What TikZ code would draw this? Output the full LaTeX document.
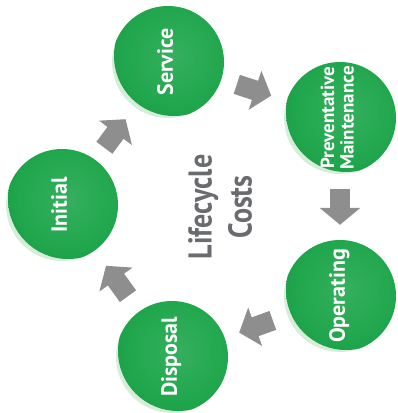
\documentclass[tikz,border=0pt]{standalone}
\usepackage{fontspec}
\setmainfont{PT Sans}
\usepackage{graphicx}
\usepackage{tikz}
\usetikzlibrary{arrows.meta, positioning, calc}
\definecolor{lcGreen}{HTML}{1FA64C}
\definecolor{lcDark}{HTML}{0E6B30}
\definecolor{lcRim}{HTML}{D5EED9}
\definecolor{lcGray}{HTML}{8E8E8E}
\definecolor{lcText}{HTML}{6A6B6E}
\pgfdeclareradialshading{lcball}{\pgfpointorigin}{%
  color(0bp)=(lcGreen!90!white); color(22bp)=(lcGreen);
  color(34bp)=(lcGreen!88!black); color(41bp)=(lcDark);
  color(45bp)=(lcGreen!80!black); color(48bp)=(lcGreen!75!white);
  color(50bp)=(lcRim)}
\newcommand{\upText}[1]{\rotatebox{90}{\begin{tabular}{@{}c@{}}#1\end{tabular}}}

\begin{document}
\begin{tikzpicture}[x=1pt, y=1pt,
      ball/.style={circle, minimum size=112pt, inner sep=0pt,
                   text=white, font=\fontsize{22}{24}\selectfont\bfseries,
                   path picture={
                     \fill[lcRim] (path picture bounding box.south west)
                       rectangle (path picture bounding box.north east);
                     \shade[shading=lcball]
                       ([shift={(6pt,6pt)}]path picture bounding box.center)
                       circle (60pt);}},
      hub/.style={rotate=90, xscale=0.85, align=center, text=lcText,
                  font=\fontsize{33}{40}\selectfont\bfseries},
      flow/.style={draw=lcGray, line width=20pt,
                   -{Triangle[width=40pt, length=17pt]}}]
    \useasboundingbox (0,0) rectangle (398,413);
    \node[ball] (service) at (168,351) {\upText{Service}};
    \node[ball, font=\fontsize{19}{19.5}\selectfont\bfseries] (prev) at (340,295)
      {\upText{Preventative\\Maintenance}};
    \node[ball] (operating) at (340,117) {\upText{Operating}};
    \node[ball] (disposal) at (172,56) {\upText{Disposal}};
    \node[ball] (initial) at (62,208) {\upText{Initial}};
    \node[hub] (costs) at (220,206) {Lifecycle\\Costs};
    \draw[flow] ($(service)!0.4!(prev)$) -- ($(service)!0.6!(prev)$);
    \draw[flow] ($(prev)!0.4!(operating)$) -- ($(prev)!0.6!(operating)$);
    \draw[flow] ($(operating)!0.4!(disposal)$) -- ($(operating)!0.6!(disposal)$);
    \draw[flow] ($(disposal)!0.4!(initial)$) -- ($(disposal)!0.6!(initial)$);
    \draw[flow] ($(initial)!0.4!(service)$) -- ($(initial)!0.6!(service)$);
  \end{tikzpicture}
\end{document}
